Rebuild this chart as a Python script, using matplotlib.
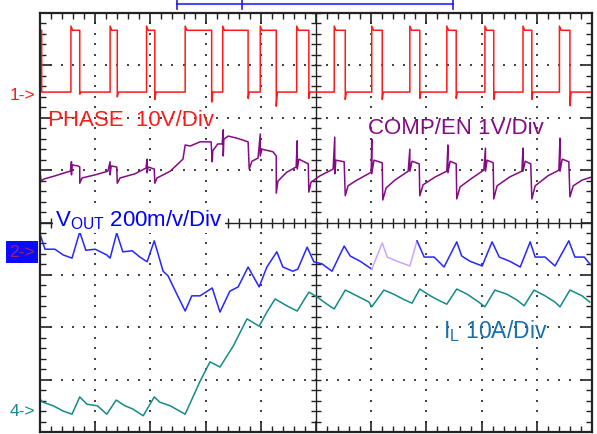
import numpy as np
import matplotlib
matplotlib.use("Agg")
import matplotlib.pyplot as plt

plt.rcParams['font.family'] = ['Liberation Sans', 'DejaVu Sans']
plt.rcParams['mathtext.fontset'] = 'custom'
plt.rcParams['mathtext.rm'] = 'Liberation Sans'
plt.rcParams['mathtext.it'] = 'Liberation Sans'

# screen is 10 x 8 divisions; time and amplitude below are in divisions
# PHASE (ch1): switching edges in div, levels in volts, 10 V/div
phase_gnd = 2.45
phase_hi = 12.2
phase_lo = 0.4
phase_peak = 13.0
phase_rise = [0.56, 1.27, 1.93, 2.63, 3.31, 3.99, 4.65, 5.33, 6.01, 6.70, 7.37, 8.06, 8.75, 9.41]
phase_fall = [0.72, 1.40, 2.08, 3.11, 3.77, 4.28, 4.87, 5.53, 6.20, 6.88, 7.54, 8.22, 8.91, 9.60]
phase_dip = [0.0, -0.5, -1.0, -1.5, -0.8, -2.3, -0.8, -1.0, -1.0, -0.8, -0.8, -1.0, -1.0, -2.2]

# COMP/EN (ch3)
comp_t = [0.00, 0.02, 0.07, 0.27, 0.45, 0.55, 0.57, 0.57, 0.58, 0.69, 0.72, 0.72, 0.76, 1.00,
          1.23, 1.27, 1.27, 1.29, 1.39, 1.40, 1.45, 1.72, 1.92, 1.94, 1.94, 1.96, 2.07, 2.08,
          2.12, 2.36, 2.59, 2.63, 2.72, 2.90, 3.10, 3.12, 3.13, 3.22, 3.30, 3.32, 3.32, 3.33,
          3.41, 3.57, 3.77, 3.79, 3.84, 3.95, 3.99, 3.99, 4.02, 4.22, 4.28, 4.28, 4.31, 4.47,
          4.64, 4.66, 4.66, 4.69, 4.86, 4.87, 4.91, 5.07, 5.31, 5.34, 5.34, 5.36, 5.51, 5.53,
          5.58, 5.71, 6.00, 6.01, 6.01, 6.05, 6.20, 6.21, 6.27, 6.43, 6.67, 6.70, 6.70, 6.74,
          6.87, 6.88, 6.94, 7.16, 7.37, 7.39, 7.39, 7.43, 7.54, 7.55, 7.61, 7.83, 8.04, 8.07,
          8.07, 8.10, 8.21, 8.22, 8.28, 8.51, 8.73, 8.75, 8.75, 8.79, 8.89, 8.91, 8.97, 9.20,
          9.40, 9.42, 9.42, 9.46, 9.58, 9.60, 9.66, 9.82, 10.00]
comp_y = [0.96, 0.79, 0.83, 0.89, 0.95, 0.98, 1.16, 0.91, 1.10, 1.08, 1.06, 0.75, 0.85, 0.91,
          0.98, 1.16, 0.91, 1.08, 1.06, 0.75, 0.85, 0.93, 1.04, 1.21, 0.95, 1.06, 1.02, 0.75,
          0.85, 0.98, 1.21, 1.48, 1.46, 1.54, 1.54, 1.16, 1.37, 1.50, 1.50, 1.77, 1.27, 1.59,
          1.65, 1.61, 1.54, 1.02, 1.17, 1.23, 1.69, 1.27, 1.40, 1.35, 1.27, 0.56, 0.79, 0.96,
          1.06, 1.56, 1.02, 1.21, 1.12, 0.58, 0.77, 0.89, 1.02, 1.63, 0.93, 1.19, 1.16, 0.51,
          0.70, 0.79, 0.96, 1.59, 0.93, 1.19, 1.14, 0.43, 0.66, 0.81, 0.98, 1.40, 0.98, 1.17,
          1.12, 0.51, 0.72, 0.87, 0.98, 1.48, 0.95, 1.17, 1.12, 0.45, 0.68, 0.85, 1.00, 1.42,
          0.98, 1.19, 1.14, 0.45, 0.70, 0.87, 0.98, 1.42, 0.98, 1.17, 1.12, 0.45, 0.70, 0.89,
          1.00, 1.61, 0.98, 1.21, 1.16, 0.49, 0.70, 0.81, 0.87]

# VOUT (ch2), 200 mV/div
vout_t = [0.00, 0.09, 0.27, 0.42, 0.58, 0.72, 0.83, 1.00, 1.21, 1.27, 1.39, 1.50, 1.67, 1.81,
          1.94, 2.07, 2.23, 2.32, 2.48, 2.63, 2.75, 2.90, 3.12, 3.26, 3.44, 3.59, 3.77, 3.97,
          4.11, 4.29, 4.40, 4.58, 4.67, 4.84, 4.96, 5.11, 5.29, 5.51, 5.62, 5.80, 6.01, 6.20,
          6.29, 6.47, 6.70, 6.83, 6.96, 7.14, 7.32, 7.55, 7.64, 7.79, 8.01, 8.19, 8.32, 8.51,
          8.70, 8.88, 8.97, 9.15, 9.33, 9.58, 9.69, 9.86, 9.96]
vout_y = [-0.22, -0.51, -0.51, -0.62, -0.68, -0.18, -0.53, -0.51, -0.62, -0.68, -0.20, -0.56,
          -0.54, -0.66, -0.75, -0.35, -0.93, -1.02, -1.37, -1.69, -1.40, -1.40, -1.25, -1.71,
          -1.31, -1.23, -0.85, -1.23, -0.85, -0.56, -0.85, -0.93, -0.89, -0.47, -0.75, -0.79,
          -0.93, -0.45, -0.64, -0.74, -0.89, -0.39, -0.66, -0.74, -0.83, -0.35, -0.66, -0.66,
          -0.85, -0.37, -0.64, -0.74, -0.83, -0.37, -0.66, -0.74, -0.85, -0.37, -0.66, -0.66,
          -0.83, -0.35, -0.66, -0.66, -0.79]

# inductor current IL (ch4), 10 A/div
il_t = [0.00, 0.05, 0.24, 0.42, 0.58, 0.72, 0.85, 1.04, 1.21, 1.38, 1.54, 1.68, 1.87, 2.07,
        2.17, 2.36, 2.63, 2.90, 3.08, 3.26, 3.50, 3.75, 3.97, 4.11, 4.26, 4.47, 4.66, 4.87,
        5.02, 5.20, 5.33, 5.53, 5.74, 5.96, 6.01, 6.23, 6.41, 6.61, 6.74, 6.88, 7.07, 7.25,
        7.37, 7.55, 7.74, 7.95, 8.06, 8.24, 8.46, 8.64, 8.77, 8.95, 9.15, 9.33, 9.42, 9.60,
        9.82, 9.96]
il_y = [-3.37, -3.43, -3.50, -3.60, -3.66, -3.33, -3.47, -3.50, -3.66, -3.39, -3.50, -3.56,
        -3.69, -3.33, -3.43, -3.50, -3.66, -3.03, -2.66, -2.76, -2.36, -1.84, -1.98, -1.71,
        -1.46, -1.59, -1.69, -1.33, -1.42, -1.56, -1.65, -1.29, -1.40, -1.52, -1.61, -1.29,
        -1.37, -1.48, -1.54, -1.27, -1.40, -1.50, -1.56, -1.27, -1.37, -1.52, -1.61, -1.29,
        -1.37, -1.48, -1.59, -1.29, -1.40, -1.52, -1.61, -1.29, -1.40, -1.52]

ch_markers = {"1->": phase_gnd, "2->": -0.56, "4->": -3.58}

RED = '#ff1a1a'
PURPLE = '#850a85'
BLUE = '#2626ff'
TEAL = '#138a8a'

fig = plt.figure(figsize=(5.97, 4.35), dpi=100)
ax = fig.add_axes([40 / 597, 2 / 435, 552 / 597, 419 / 435])
ax.set_xlim(0, 10)
ax.set_ylim(-4, 4)

# graticule: dotted division lines and ticked center cross
minor_x = np.arange(0, 10.001, 0.2)
minor_y = np.arange(-4, 4.001, 0.2)
for xi in [1, 2, 3, 4, 6, 7, 8, 9]:
    ax.scatter(np.full(minor_y.size, xi), minor_y, s=1.2, color='#444444', marker='s', lw=0)
for yi in [-3, -2, -1, 1, 2, 3]:
    ax.scatter(minor_x, np.full(minor_x.size, yi), s=1.2, color='#444444', marker='s', lw=0)
ax.axhline(0, color='#222222', lw=1.0)
ax.axvline(5, color='#222222', lw=1.0)
ax.plot(minor_x, np.zeros(minor_x.size), ls='none', marker='|', ms=7, mew=1.0, color='#222222')
ax.plot(np.full(minor_y.size, 5), minor_y, ls='none', marker='_', ms=7, mew=1.0, color='#222222')

ax.set_xticks(np.arange(0, 11, 1))
ax.set_yticks(np.arange(-4, 5, 1))
ax.set_xticks(minor_x, minor=True)
ax.set_yticks(minor_y, minor=True)
ax.tick_params(which='both', direction='in', top=True, right=True,
               labelbottom=False, labelleft=False, color='#222222')
ax.tick_params(which='major', length=8, width=1.2)
ax.tick_params(which='minor', length=4.5, width=1.0)
for sp in ax.spines.values():
    sp.set_linewidth(1.6)
    sp.set_color('#222222')

# PHASE square wave built from the edge list
pt = [0.0, 0.03, 0.03]
pv = [phase_hi, phase_hi, phase_lo]
for r, f, d in zip(phase_rise, phase_fall, phase_dip):
    pt += [r, r, r + 0.03, f, f, f + 0.02]
    pv += [phase_lo, phase_peak, phase_hi, phase_hi, d, phase_lo]
pt.append(10.0)
pv.append(phase_lo)
ax.plot(pt, phase_gnd + np.array(pv) / 10.0, color=RED, lw=1.1)

ax.plot(comp_t, comp_y, color=PURPLE, lw=1.1)

# part of VOUT trace is drawn faint on the scope
vt = np.array(vout_t)
vy = np.array(vout_y)
i0 = list(vt).index(6.01)
i1 = list(vt).index(6.83)
ax.plot(vt[:i0 + 1], vy[:i0 + 1], color=BLUE, lw=1.1)
ax.plot(vt[i0:i1 + 1], vy[i0:i1 + 1], color='#c9a6f5', lw=1.1)
ax.plot(vt[i1:], vy[i1:], color=BLUE, lw=1.1)

ax.plot(il_t, il_y, color=TEAL, lw=1.1)

# channel ground markers
ax.text(-0.08, ch_markers["1->"], "1->", color=RED, fontsize=12.5, ha='right', va='center',
        clip_on=False)
ax.text(-0.1, ch_markers["2->"], "2->", color='#a0206e', fontsize=12.5, ha='right', va='center',
        clip_on=False, bbox=dict(boxstyle='square,pad=0.2', fc='#0a0aff', ec='none'))
ax.text(-0.08, ch_markers["4->"], "4->", color=TEAL, fontsize=12.5, ha='right', va='center',
        clip_on=False)

# trigger bracket above the screen
bx0, bx1, btk, by = 2.48, 7.48, 3.66, 4.18
ax.plot([bx0, bx1], [by, by], color='#4848ff', lw=1.5, clip_on=False)
for bx in (bx0, btk, bx1):
    ax.plot([bx, bx], [4.26, 4.08], color='#2020e0', lw=1.2, clip_on=False)

# channel labels
ax.text(0.15, 1.86, "PHASE  10V/Div", color=RED, fontsize=16, va='baseline')
ax.text(5.94, 1.70, "COMP/EN 1V/Div", color=PURPLE, fontsize=16, va='baseline')
ax.text(0.27, -0.06, r"V$_{\mathrm{OUT}}$ 200m/v/Div", color='#0000ff', fontsize=16,
        va='baseline', zorder=5,
        bbox=dict(boxstyle='square,pad=0.1', fc='white', ec='none'))
ax.text(7.30, -2.19, r"I$_{\mathrm{L}}$ 10A/Div", color='#1a6fb0', fontsize=16.5,
        va='baseline')

fig.savefig("out.png", dpi=100)
